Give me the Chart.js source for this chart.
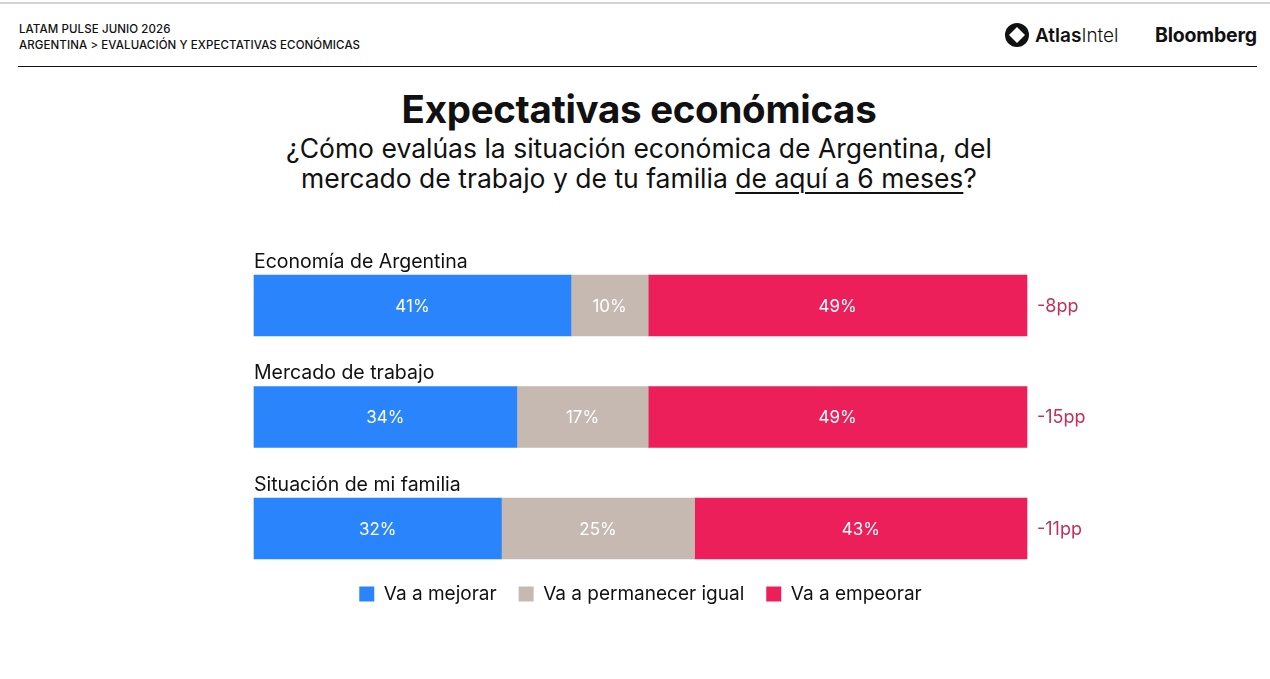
<!DOCTYPE html>
<html>
<head>
<meta charset="utf-8">
<script src="https://cdn.jsdelivr.net/npm/chart.js@4.4.1/dist/chart.umd.min.js"></script>
<style>
  body { margin: 0; background: #fff; font-family: Inter, "Noto Sans", sans-serif; color: #111; }
  #page { position: relative; width: 1270px; height: 679px; overflow: hidden; }
  .top { position: absolute; left: 0; right: 0; top: 2px; border-top: 2px solid #d4d4d4; }
  .hdr { position: absolute; left: 19px; top: 21px; font-size: 11.5px; font-weight: 500; line-height: 16px; letter-spacing: 0.1px; }
  .rule { position: absolute; left: 18px; right: 13px; top: 66px; border-top: 1.5px solid #111; }
  .atlas { position: absolute; left: 1005px; top: 23px; font-size: 19px; display: flex; align-items: center; gap: 6px; }
  .bloom { position: absolute; left: 1155px; top: 23px; font-size: 19.5px; font-weight: 700; letter-spacing: -0.2px; }
  h1 { position: absolute; left: 0; width: 1278px; top: 86px; margin: 0; text-align: center; font-size: 38.5px; font-weight: 700; letter-spacing: -0.3px; }
  .sub { position: absolute; left: 0; width: 1278px; top: 133px; text-align: center; font-size: 26.5px; line-height: 30px; font-weight: 400; }
  .sub u { text-decoration-thickness: 2px; text-underline-offset: 4px; }
  #wrap { position: absolute; left: 0; top: 240px; width: 1270px; height: 380px; }
</style>
</head>
<body>
<div id="page">
  <div class="top"></div>
  <div class="hdr">LATAM PULSE JUNIO 2026<br>ARGENTINA &gt; EVALUACIÓN Y EXPECTATIVAS ECONÓMICAS</div>
  <div class="atlas">
    <svg width="24" height="24" viewBox="0 0 24 24"><circle cx="12" cy="12" r="12" fill="#111"/><path d="M12 4 L20 12 L12 20 L4 12 Z" fill="#fff"/></svg>
    <span><b style="font-weight:600">Atlas</b><span style="font-weight:300">Intel</span></span>
  </div>
  <div class="bloom">Bloomberg</div>
  <div class="rule"></div>
  <h1>Expectativas económicas</h1>
  <div class="sub">¿Cómo evalúas la situación económica de Argentina, del<br>mercado de trabajo y de tu familia <u>de aquí a 6 meses</u>?</div>
  <div id="wrap"><canvas id="chart"></canvas></div>
</div>
<script>
const categories = ["Economía de Argentina", "Mercado de trabajo", "Situación de mi familia"]
const mejorar = [41, 34, 32]
const igual = [10, 17, 25]
const empeorar = [49, 49, 43]
const balance = ["-8pp", "-15pp", "-11pp"]

// labels over the bars, percentages inside, balance on the right
const rowLabels = {
    id: 'rowLabels',
    afterDatasetsDraw(chart) {
        const { ctx, chartArea } = chart
        const y = chart.scales.y
        ctx.save()
        categories.forEach((c, i) => {
            const cy = y.getPixelForValue(i)
            ctx.fillStyle = '#111'
            ctx.font = '19.5px Inter, "Noto Sans", sans-serif'
            ctx.textAlign = 'left'
            ctx.textBaseline = 'alphabetic'
            ctx.fillText(c, chartArea.left, cy - 38)
            ctx.fillStyle = '#c2305a'
            ctx.font = '18px Inter, "Noto Sans", sans-serif'
            ctx.textBaseline = 'middle'
            ctx.fillText(balance[i], chartArea.right + 10, cy + 1)
        })
        chart.data.datasets.forEach((ds, di) => {
            chart.getDatasetMeta(di).data.forEach((bar, i) => {
                const left = Math.min(bar.x, bar.base)
                const w = Math.abs(bar.x - bar.base)
                ctx.fillStyle = '#fff'
                ctx.font = '17px Inter, "Noto Sans", sans-serif'
                ctx.textAlign = 'center'
                ctx.textBaseline = 'middle'
                ctx.fillText(ds.data[i] + '%', left + w / 2, bar.y + 1)
            })
        })
        ctx.restore()
    }
}

new Chart(document.getElementById('chart'), {
    type: 'bar',
    data: {
        labels: categories,
        datasets: [
            { label: 'Va a mejorar', data: mejorar, backgroundColor: '#2a85fc', clip: false },
            { label: 'Va a permanecer igual', data: igual, backgroundColor: '#c5b9b1', clip: false },
            { label: 'Va a empeorar', data: empeorar, backgroundColor: '#ec1f5a', clip: false }
        ]
    },
    options: {
        indexAxis: 'y',
        responsive: true,
        maintainAspectRatio: false,
        animation: false,
        barThickness: 61,
        layout: { padding: { left: 254, right: 243, top: 65.5, bottom: 6.5 } },
        scales: {
            x: {
                stacked: true, min: 0, max: 100,
                grid: { display: false }, border: { display: false }, ticks: { display: false },
                afterFit(scale) { scale.height = 34 }
            },
            y: { stacked: true, display: false, offset: false }
        },
        plugins: {
            tooltip: { enabled: false },
            legend: {
                position: 'bottom',
                labels: {
                    boxWidth: 15,
                    boxHeight: 15,
                    color: '#111',
                    padding: 22,
                    font: { size: 19, family: 'Inter, "Noto Sans", sans-serif' }
                }
            }
        }
    },
    plugins: [rowLabels]
})
</script>
</body>
</html>
